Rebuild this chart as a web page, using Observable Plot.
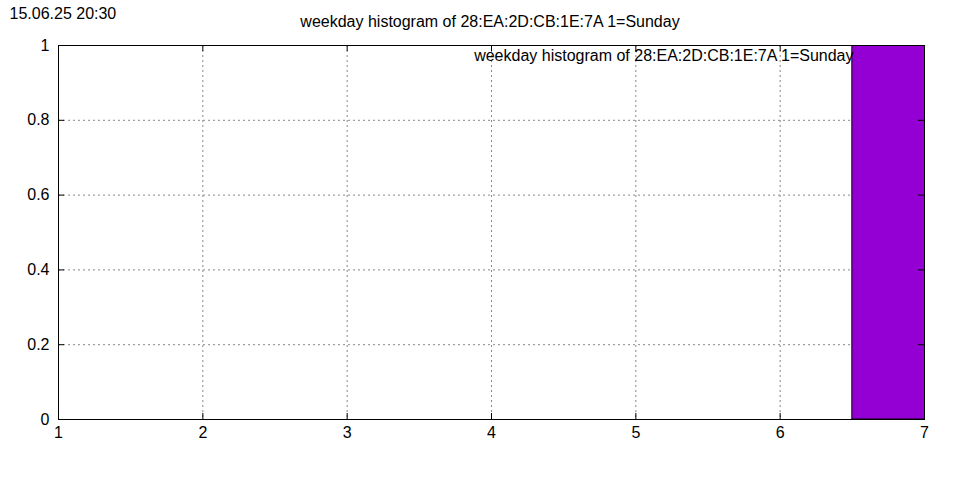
<!DOCTYPE html>
<html><head><meta charset="utf-8">
<script src="https://cdn.jsdelivr.net/npm/d3@7"></script>
<script src="https://cdn.jsdelivr.net/npm/@observablehq/plot@0.6"></script>
<style>
html,body{margin:0;padding:0;background:#fff;}
#c{position:relative;width:960px;height:480px;}
</style>
</head><body><div id="c"></div>
<script>
const weekdays = [7];
const counts = [1];
const xTicks = [1, 2, 3, 4, 5, 6, 7];
const yTicks = [0, 0.2, 0.4, 0.6, 0.8, 1];
const titleText = "weekday histogram of 28:EA:2D:CB:1E:7A 1=Sunday";
const keyText = "weekday histogram of 28:EA:2D:CB:1E:7A 1=Sunday";
const stampText = "15.06.25 20:30";

const data = weekdays.map((d, i) => ({day: d, count: counts[i]}));
const W = 960, H = 480, mL = 58, mR = 36, mT = 45, mB = 61;
const plotW = W - mL - mR, plotH = H - mT - mB;
const font = "Liberation Sans, Arial, sans-serif";

const chart = Plot.plot({
  width: W, height: H,
  marginLeft: mL, marginRight: mR, marginTop: mT, marginBottom: mB,
  style: {fontFamily: font, fontSize: "16px", background: "#fff", color: "#000"},
  x: {domain: [1, 7], ticks: xTicks, tickFormat: d => String(d), label: null},
  y: {domain: [0, 1], ticks: yTicks, tickFormat: d => String(d), label: null},
  marks: [
    Plot.gridX(xTicks.slice(1, -1), {stroke: "#888", strokeOpacity: 1, strokeDasharray: "2,3", strokeWidth: 1}),
    Plot.gridY(yTicks.slice(1, -1), {stroke: "#888", strokeOpacity: 1, strokeDasharray: "2,3", strokeWidth: 1}),
    Plot.rectY(data, {x1: d => d.day - 0.5, x2: d => d.day + 0.5, y: "count", fill: "#9400D3", stroke: "#000", strokeWidth: 1, clip: true}),
    Plot.tickX(xTicks, {x: d => d, insetTop: plotH - 6, stroke: "#000"}),
    Plot.tickX(xTicks, {x: d => d, insetBottom: plotH - 6, stroke: "#000"}),
    Plot.tickY(yTicks, {y: d => d, insetRight: plotW - 6, stroke: "#000"}),
    Plot.tickY(yTicks, {y: d => d, insetLeft: plotW - 6, stroke: "#000"}),
    Plot.frame({stroke: "#000", strokeWidth: 1}),
    Plot.axisX({ticks: xTicks, tickSize: 0, tickPadding: 7, fontSize: 16, tickFormat: d => String(d), label: null}),
    Plot.axisY({ticks: yTicks, tickSize: 0, tickPadding: 9, fontSize: 16, tickFormat: d => String(d), label: null}),
    Plot.text([keyText], {frameAnchor: "top-right", dx: -71, dy: 4, textAnchor: "end", fontSize: 16, fill: "#000"}),
    Plot.text([titleText], {frameAnchor: "top", dx: -1.5, dy: -30, fontSize: 16, fill: "#000"}),
    Plot.text([stampText], {frameAnchor: "top-left", dx: -49, dy: -38, textAnchor: "start", fontSize: 16, fill: "#000"})
  ]
});
document.getElementById("c").appendChild(chart);
</script>
</body></html>
